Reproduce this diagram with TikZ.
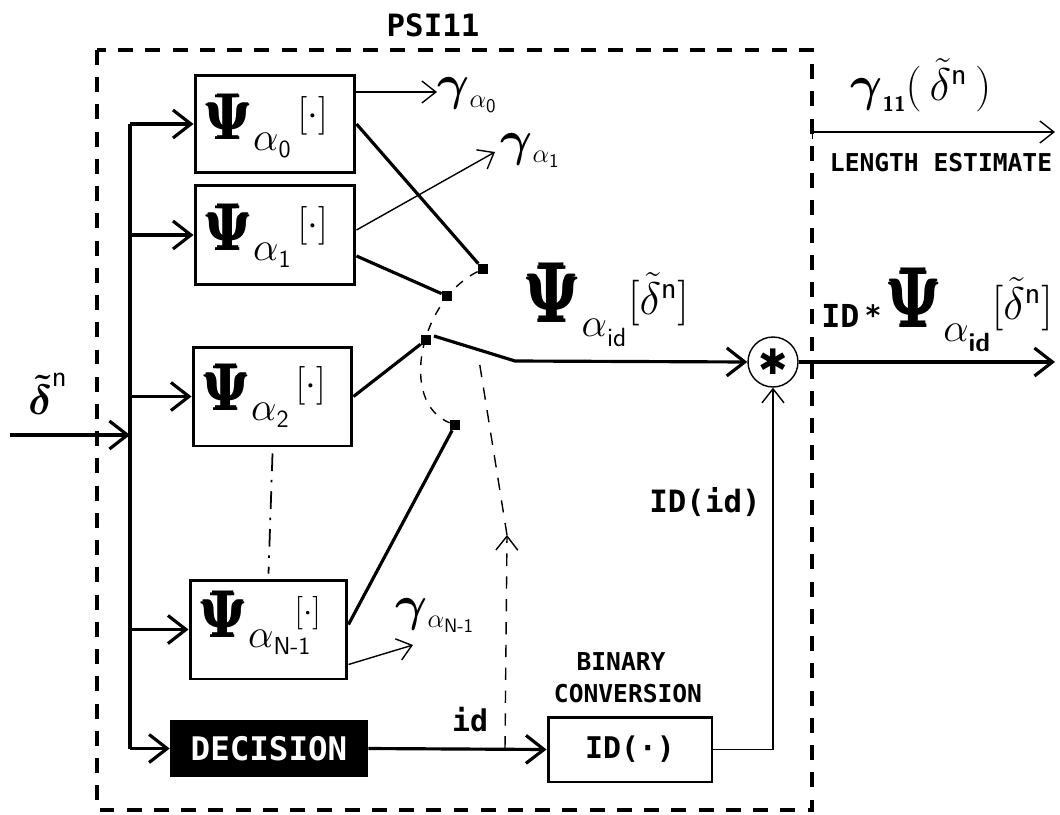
\RequirePackage{fix-cm}
\documentclass[tikz,border=0pt]{standalone}
\usepackage{amsmath}
\usepackage[no-math]{fontspec}
\setmonofont{DejaVu Sans Mono}
\newfontfamily\symfont{DejaVu Sans}
\usetikzlibrary{arrows.meta}

% plotter-style lettering
\newcommand\lbl[1]{\fontsize{#1}{#1}\selectfont\ttfamily\bfseries}
% heavy Psi
\newcommand\hpsi[2]{\scalebox{#2}[1]{\fontsize{#1}{#1}\selectfont$\pmb{\mathbf{\Psi}}$}}
% operator Psi_{alpha_k}
\newcommand\psiop[1]{%
  \hpsi{37}{0.84}%
  \raisebox{-6pt}{\fontsize{23}{23}\selectfont$\alpha$}%
  \raisebox{-10pt}{\fontsize{14}{14}\selectfont\sffamily #1}}
\newcommand\dotarg[1]{\fontsize{#1}{#1}\selectfont$[\cdot]$}
% gamma_{alpha_k}
\newcommand\gam[1]{%
  {\fontsize{28}{28}\selectfont$\boldsymbol{\gamma}$}%
  \raisebox{-4pt}{\fontsize{15}{15}\selectfont$\alpha$}%
  \raisebox{-7pt}{\fontsize{11}{11}\selectfont\sffamily #1}}
% Psi_{alpha_id}[delta^n]
\newcommand\bigpsi{%
  \hpsi{47}{0.78}%
  \raisebox{-8pt}{\fontsize{23}{23}\selectfont$\alpha$}%
  \raisebox{-14pt}{\fontsize{15}{15}\selectfont\sffamily id}\kern1pt%
  \raisebox{4pt}{\fontsize{26}{26}\selectfont$[\tilde{\delta}^{\mathsf{n}}]$}}

\begin{document}
\begin{tikzpicture}[x=0.02cm,y=-0.02cm,
  thickline/.style={line width=1.8pt},
  thinline/.style={line width=0.8pt},
  blk/.style={draw,line width=1.7pt,inner sep=0pt},
  harrow/.style={-{Straight Barb[length=3.6mm,width=5.6mm,line width=1.8pt]}},
  larrow/.style={-{Straight Barb[length=2.8mm,width=4.4mm,line width=0.8pt]}},
  contact/.style={fill,inner sep=0pt,minimum size=0.2cm},
  frame/.style={line width=2.2pt,dash pattern=on 8.5pt off 7pt},
  txt/.style={inner sep=0pt}]
\useasboundingbox (0,0) rectangle (1060,814);

% PSI11 enclosure
\draw[frame] (97,50) rectangle (812,810);
\node[txt] (title) at (433,25) {\lbl{17.5}PSI11};

% filter bank boxes
\node[blk,minimum width=3.2cm,minimum height=1.96cm] (b0) at (275,124) {};
\node[blk,minimum width=3.2cm,minimum height=2cm] (b1) at (275,235) {};
\node[blk,minimum width=3.18cm,minimum height=1.98cm] (b2) at (272.5,396.5) {};
\node[blk,minimum width=3.14cm,minimum height=1.98cm] (bN) at (268.5,629.5) {};
\node[txt,anchor=base west] (t0) at (205,140) {\psiop{0}\kern4pt\raisebox{8pt}{\dotarg{22}}};
\node[txt,anchor=base west] (t1) at (205,250) {\psiop{1}\kern4pt\raisebox{8pt}{\dotarg{22}}};
\node[txt,anchor=base west] (t2) at (203,410) {\psiop{2}\kern4pt\raisebox{8pt}{\dotarg{22}}};
\node[txt,anchor=base west] (tN) at (200,637) {\psiop{N-1}\kern-9pt\raisebox{9pt}{\dotarg{19}}};

% decision and binary conversion
\node[fill=black,minimum width=3.96cm,minimum height=1.14cm,inner sep=0pt] (dec) at (269,748.5)
  {\color{white}\lbl{18.5}DECISION};
\node[blk,minimum width=3.28cm,minimum height=1.3cm] (idb) at (630,749.5) {\lbl{17}ID(·)};
\node[txt] (bin) at (621,662) {\lbl{14}BINARY};
\node[txt] (conv) at (628,694) {\lbl{14}CONVERSION};

% multiplier
\node[draw,circle,thinline,minimum size=1cm,inner sep=0pt] (mul) at (773,362)
  {\symfont\fontsize{20}{20}\selectfont ✱};

% input and distribution bus
\coordinate (in) at (10,435);
\coordinate (bt) at (130,124);
\node[txt] (inl) at (48,394) {\fontsize{24}{24}\selectfont$\boldsymbol{\tilde{\delta}}^{\mathsf{n}}$};
\draw[thickline] (bt) -- (bt |- dec.west);
\draw[thickline,harrow] (in) -- (in -| bt);
\foreach \b in {b0,b1,b2,bN,dec}
  \draw[thickline,harrow] (bt |- \b.west) -- (\b.west);
\draw[line width=1pt,dash pattern=on 10pt off 5pt on 1.5pt off 5pt]
  ([yshift=-0.12cm]b2.south) -- ([yshift=0.1cm]bN.north);

% length outputs gamma
\node[txt,anchor=base west] (g0) at (437,100) {\gam{0}};
\node[txt,anchor=base west] (g1) at (500,155) {\gam{1}};
\node[txt,anchor=base west] (gN) at (395,620) {\gam{N-1}};
\coordinate (g1a) at (495,152);
\coordinate (gNa) at (413,645);
\draw[thinline,larrow] ([yshift=0.64cm]b0.east) -- ([yshift=0.64cm]b0.east -| g0.west);
\draw[thinline,larrow] ([yshift=0.1cm]b1.east) -- (g1a);
\draw[thinline,larrow] ([yshift=-0.7cm]bN.east) -- (gNa);

% selector switch
\node[contact] (c0) at (483,269) {};
\node[contact] (c1) at (447,296) {};
\node[contact] (c2) at (426,340) {};
\node[contact] (cN) at (455,425) {};
\draw[thickline] (b0.east) -- (c0);
\draw[thickline] ([yshift=-0.42cm]b1.east) -- (c1);
\draw[thickline] (b2.east) -- (c2);
\draw[thickline] ([yshift=0.1cm]bN.east) -- (cN);
\draw[thinline,dash pattern=on 5pt off 5pt] (c0) .. controls (420,300) and (398,402) .. (cN);
\coordinate (piv) at (434,336);
\coordinate (kn) at (515,361);
\draw[thickline,harrow] (piv) -- (kn) -- (mul.west);
\node[txt,anchor=base west] (mid) at (525,322) {\bigpsi};

% switch control from the decision
\coordinate (tap) at (505,748.5);
\coordinate (ah) at (507,535);
\coordinate (bl) at (479,360);
\draw[thinline,dash pattern=on 7pt off 6pt,larrow] (tap) -- (ah);
\draw[thinline,dash pattern=on 7pt off 6pt] (ah) -- (bl);
\node[txt] (idl) at (470,720) {\lbl{17}id};
\draw[thickline,harrow] (dec.east) -- (idb.west);

% code word into the multiplier
\draw[thinline,larrow] (idb.east) -- (mul.south |- idb.east) -- (mul.south);
\node[txt] (idid) at (705,502) {\lbl{17.5}ID(id)};

% outputs
\coordinate (out) at (1055,362);
\draw[thickline,harrow] (mul.east) -- (out);
\node[txt,anchor=base west] (outl) at (821,327)
  {\lbl{18}ID\kern3pt\raisebox{1pt}{\lbl{16}*}\kern3pt\bigpsi};
\coordinate (ls) at (812,132);
\coordinate (le) at (1055,132);
\draw[thinline,{Bar[width=3mm,line width=0.8pt]}-{Straight Barb[length=2.8mm,width=4.4mm,line width=0.8pt]}] (ls) -- (le);
\node[txt,anchor=base west] (g11) at (850,101)
  {{\fontsize{28}{28}\selectfont$\boldsymbol{\gamma}$}\raisebox{-6pt}{\fontsize{12}{12}\selectfont\sffamily\bfseries 11}%
   {\fontsize{26}{26}\selectfont$(\,\tilde{\delta}^{\mathsf{n}}\,)$}};
\node[txt] (lenest) at (941,163) {\lbl{14}LENGTH ESTIMATE};
\end{tikzpicture}
\end{document}
